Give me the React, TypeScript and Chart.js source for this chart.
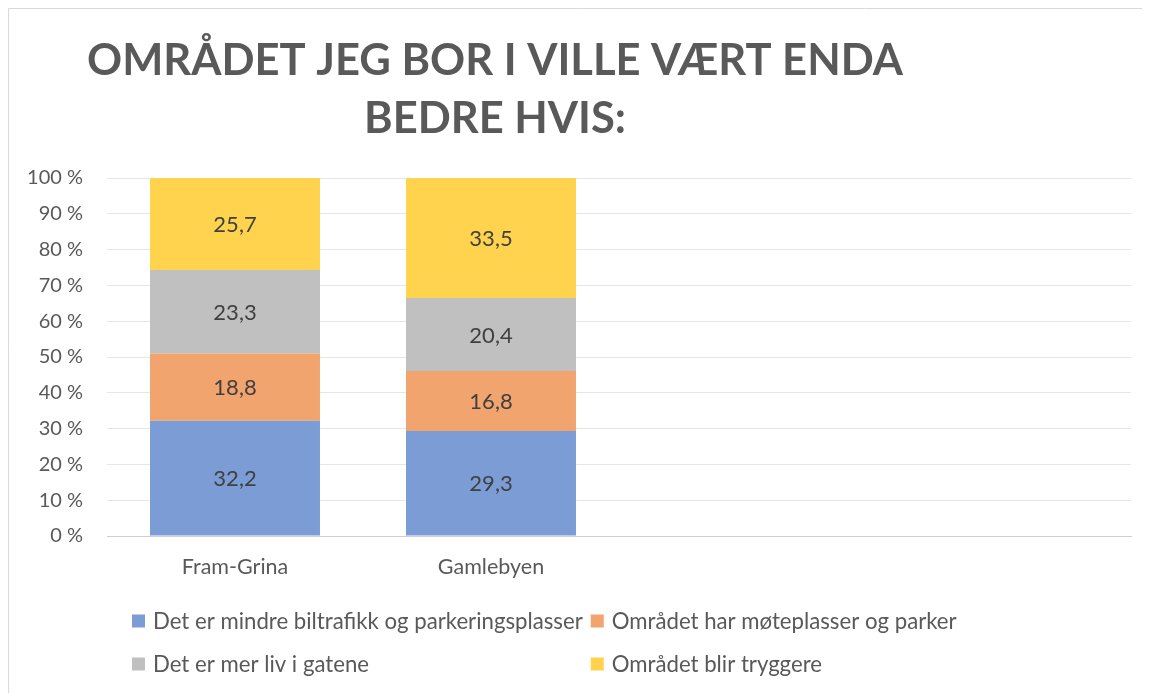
import React, { useEffect, useRef } from 'react';
import { Chart, registerables } from 'chart.js';

Chart.register(...registerables);

const categories = ['Fram-Grina', 'Gamlebyen', '', ''];
const seriesNames = [
  'Det er mindre biltrafikk og parkeringsplasser',
  'Området har møteplasser og parker',
  'Det er mer liv i gatene',
  'Området blir tryggere',
];
const biltrafikk = [32.2, 29.3, null, null];
const moteplasser = [18.8, 16.8, null, null];
const merLiv = [23.3, 20.4, null, null];
const tryggere = [25.7, 33.5, null, null];
const titleLines = ['OMRÅDET JEG BOR I VILLE VÆRT ENDA', 'BEDRE HVIS:'];
const yMax = 100;
const yStep = 10;

const colors = ['#7C9CD6', '#F2A46F', '#C0C0C0', '#FFD34D'];
const FONT = 'Lato, "Open Sans", sans-serif';

const framePlugin = {
  id: 'frame',
  beforeDraw(chart: any) {
    const ctx = chart.ctx;
    ctx.save();
    ctx.fillStyle = '#ffffff';
    ctx.fillRect(0, 0, chart.width, chart.height);
    ctx.strokeStyle = '#D9D9D9';
    ctx.lineWidth = 1;
    ctx.beginPath();
    ctx.moveTo(0.5, chart.height);
    ctx.lineTo(0.5, 0.5);
    ctx.lineTo(chart.width, 0.5);
    ctx.stroke();
    ctx.restore();
  },
};

const titlePlugin = {
  id: 'customTitle',
  afterDraw(chart: any) {
    const ctx = chart.ctx;
    ctx.save();
    ctx.fillStyle = '#595959';
    ctx.font = `bold 43.5px ${FONT}`;
    ctx.textAlign = 'center';
    ctx.textBaseline = 'alphabetic';
    const cx = 487;
    ctx.fillText(titleLines[0], cx, 67);
    ctx.fillText(titleLines[1], cx, 125);
    ctx.restore();
  },
};

const dataLabelPlugin = {
  id: 'segLabels',
  afterDatasetsDraw(chart: any) {
    const ctx = chart.ctx;
    ctx.save();
    ctx.fillStyle = '#404040';
    ctx.font = `22px ${FONT}`;
    ctx.textAlign = 'center';
    ctx.textBaseline = 'middle';
    chart.data.datasets.forEach((ds: any, i: number) => {
      const meta = chart.getDatasetMeta(i);
      meta.data.forEach((el: any, j: number) => {
        const v = ds.data[j];
        if (v == null) return;
        const y = (el.y + el.base) / 2;
        ctx.fillText(v.toFixed(1).replace('.', ','), el.x, y + 1);
      });
    });
    ctx.restore();
  },
};

const legendPlugin = {
  id: 'gridLegend',
  afterDraw(chart: any) {
    const ctx = chart.ctx;
    ctx.save();
    ctx.font = `22.2px ${FONT}`;
    ctx.textBaseline = 'middle';
    ctx.textAlign = 'left';
    const box = 13;
    const left = 124;
    const gapText = 8;
    const colGap = 8;
    const rowYs = [613, 656];
    const names = chart.data.datasets.map((d: any) => d.label);
    const col0W = Math.max(ctx.measureText(names[0]).width, ctx.measureText(names[2]).width);
    const colX = [left, left + box + gapText + col0W + colGap];
    names.forEach((n: string, i: number) => {
      const r = Math.floor(i / 2);
      const c = i % 2;
      const x = colX[c];
      const y = rowYs[r];
      ctx.fillStyle = chart.data.datasets[i].backgroundColor;
      ctx.fillRect(x, y - box / 2, box, box);
      ctx.fillStyle = '#595959';
      ctx.fillText(n, x + box + gapText, y + 1);
    });
    ctx.restore();
  },
};

export default function App() {
  const ref = useRef<HTMLCanvasElement | null>(null);
  useEffect(() => {
    document.documentElement.style.overflow = 'hidden';
    document.body.style.overflow = 'hidden';
    if (!ref.current) return;
    const series = [biltrafikk, moteplasser, merLiv, tryggere];
    const chart = new Chart(ref.current, {
      type: 'bar',
      data: {
        labels: categories,
        datasets: series.map((d, i) => ({
          label: seriesNames[i],
          data: d,
          backgroundColor: colors[i],
          borderWidth: 0,
          barPercentage: 0.664,
          categoryPercentage: 1,
        })),
      },
      options: {
        responsive: false,
        animation: false,
        devicePixelRatio: 1,
        layout: { padding: { top: 170, right: 19, bottom: 0, left: 0 } },
        plugins: {
          legend: { display: false },
          title: { display: false },
          tooltip: { enabled: false },
        },
        scales: {
          x: {
            stacked: true,
            grid: { display: false, drawTicks: false },
            border: { display: true, color: '#D0D0D0', width: 1 },
            ticks: {
              color: '#595959',
              font: { family: FONT, size: 21.5 },
              padding: 18,
              maxRotation: 0,
            },
            afterFit: (s: any) => {
              s.height = 157;
            },
          },
          y: {
            stacked: true,
            min: 0,
            max: yMax,
            ticks: {
              stepSize: yStep,
              color: '#595959',
              font: { family: FONT, size: 20 },
              padding: 24,
              callback: (v: any) => `${v} %`,
            },
            grid: {
              drawTicks: false,
              color: (c: any) => (c.tick && c.tick.value === 0 ? '#D0D0D0' : '#E6E6E6'),
              lineWidth: 1,
            },
            border: { display: false },
            afterFit: (s: any) => {
              s.width = 99;
            },
          },
        },
      },
      plugins: [framePlugin, titlePlugin, dataLabelPlugin, legendPlugin],
    });
    return () => chart.destroy();
  }, []);
  return (
    <div style={{ width: 1142, height: 685, overflow: 'hidden' }}>
      <canvas ref={ref} width={1142} height={685} style={{ display: 'block' }} />
    </div>
  );
}
